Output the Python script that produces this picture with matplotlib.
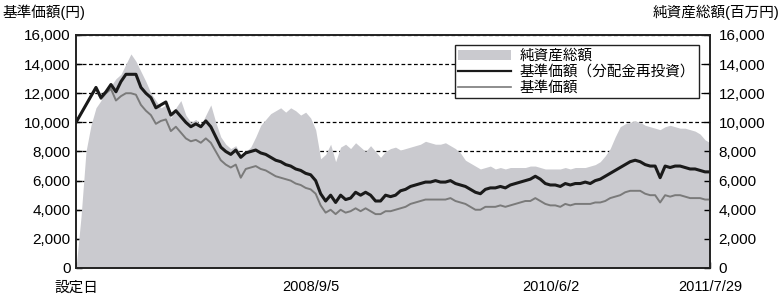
import numpy as np
import pandas as pd
import matplotlib
matplotlib.use('Agg')
import matplotlib.pyplot as plt
from matplotlib.patches import Patch
from matplotlib.lines import Line2D

plt.rcParams['font.family'] = ['Liberation Sans', 'Noto Sans CJK JP', 'DejaVu Sans']

# 設定日 ~ 2011/7/29, 概ね2週間ごとの値(読み取り)
start_date = '2006-12-22'
end_date = '2011-07-29'

nav_reinvest = [
    10000, 10600, 11200, 11800, 12400, 11700, 12100, 12600, 12100, 12800,
    13300, 13300, 13300, 12400, 12000, 11700, 11000, 11200, 11400, 10500,
    10800, 10400, 10000, 9700, 9900, 9700, 10100, 9700, 9000, 8300,
    8000, 7800, 8100, 7600, 7900, 8000, 8100, 7900, 7800, 7600,
    7400, 7300, 7100, 7000, 6800, 6700, 6500, 6400, 6000, 5100,
    4600, 5000, 4500, 5000, 4700, 4800, 5200, 5000, 5200, 5000,
    4600, 4600, 5000, 4900, 5000, 5300, 5400, 5600, 5700, 5800,
    5900, 5900, 6000, 5900, 5900, 6000, 5800, 5700, 5600, 5400,
    5200, 5100, 5400, 5500, 5500, 5600, 5500, 5700, 5800, 5900,
    6000, 6100, 6300, 6100, 5800, 5700, 5700, 5600, 5800, 5700,
    5800, 5800, 5900, 5800, 6000, 6100, 6300, 6500, 6700, 6900,
    7100, 7300, 7400, 7300, 7100, 7000, 7000, 6200, 7000, 6900,
    7000, 7000, 6900, 6800, 6800, 6700, 6600, 6600,
]

nav = [
    10000, 10600, 11200, 11800, 12300, 11600, 12000, 12300, 11500, 11800,
    12000, 12000, 11900, 11200, 10800, 10500, 9900, 10100, 10200, 9400,
    9700, 9300, 8900, 8700, 8800, 8600, 8900, 8600, 8000, 7400,
    7100, 6900, 7100, 6200, 6800, 6900, 7000, 6800, 6700, 6500,
    6300, 6200, 6100, 6000, 5800, 5700, 5500, 5400, 5100, 4300,
    3800, 4000, 3700, 4000, 3800, 3900, 4100, 3900, 4100, 3900,
    3700, 3700, 3900, 3900, 4000, 4100, 4200, 4400, 4500, 4600,
    4700, 4700, 4700, 4700, 4700, 4800, 4600, 4500, 4400, 4200,
    4000, 4000, 4200, 4200, 4200, 4300, 4200, 4300, 4400, 4500,
    4600, 4600, 4800, 4600, 4400, 4300, 4300, 4200, 4400, 4300,
    4400, 4400, 4400, 4400, 4500, 4500, 4600, 4800, 4900, 5000,
    5200, 5300, 5300, 5300, 5100, 5000, 5000, 4500, 5000, 4900,
    5000, 5000, 4900, 4800, 4800, 4800, 4700, 4700,
]

net_assets = [
    0, 3500, 8000, 9800, 11000, 11500, 12200, 12500, 13000, 13300,
    14000, 14700, 14200, 13500, 12800, 12000, 11500, 11000, 11200, 10300,
    11000, 11500, 10500, 10000, 10200, 9800, 10500, 11200, 10000, 9000,
    8500, 8200, 8400, 7800, 8000, 8300, 9000, 9800, 10200, 10600,
    10800, 11000, 10700, 11000, 10800, 10500, 10700, 10300, 9500, 7500,
    7800, 8500, 7300, 8300, 8500, 8200, 8600, 8300, 8000, 8400,
    8000, 7600, 8000, 8200, 8300, 8100, 8200, 8300, 8400, 8500,
    8700, 8600, 8500, 8500, 8600, 8400, 8200, 7900, 7400, 7200,
    7000, 6800, 6900, 7000, 6800, 6900, 6800, 6900, 6900, 6900,
    6900, 7000, 7000, 6900, 6800, 6800, 6800, 6800, 6900, 6800,
    6900, 6900, 6900, 7000, 7100, 7300, 7700, 8200, 9000, 9700,
    9900, 10000, 10100, 10000, 9800, 9700, 9600, 9500, 9700, 9800,
    9700, 9600, 9600, 9500, 9400, 9200, 8800, 8600,
]

tick_dates = ['2006-12-22', '2008-09-05', '2010-06-02', '2011-07-29']
tick_labels = ['設定日', '2008/9/5', '2010/6/2', '2011/7/29']
y_ticks = np.arange(0, 16001, 2000)

dates = pd.date_range(start_date, end_date, periods=len(nav))

fig = plt.figure(figsize=(7.82, 2.96), dpi=100)
ax2 = fig.add_axes([0.0972, 0.0946, 0.8108, 0.7872])
ax = ax2.twinx()
ax.set_zorder(ax2.get_zorder() + 1)
ax.patch.set_visible(False)

# 純資産総額(右軸)
ax2.fill_between(dates, 0, net_assets, color='#cacacf', linewidth=0, zorder=2)
ax2.set_axisbelow(True)
ax2.grid(axis='y', color='black', linestyle=(0, (3, 2)), linewidth=0.9)
ax2.set_ylim(0, 16000)
ax2.set_yticks(y_ticks)

# 基準価額(左軸)
ax.plot(dates, nav, color='#7a7a7a', linewidth=1.4)
ax.plot(dates, nav_reinvest, color='#1a1a1a', linewidth=2.2)
ax.set_ylim(0, 16000)
ax.set_yticks(y_ticks)

ax2.set_xlim(pd.Timestamp(start_date), pd.Timestamp(end_date))
ax2.set_xticks(pd.to_datetime(tick_dates))
ax2.set_xticklabels(tick_labels, fontsize=10.5)

# 左ラベルは ax2、右ラベルは ax
ax2.yaxis.tick_left()
ax.yaxis.tick_right()
ax2.set_yticklabels([f'{v:,}' for v in y_ticks], fontsize=11)
ax.set_yticklabels([f'{v:,}' for v in y_ticks], fontsize=11)
ax2.tick_params(axis='y', direction='in', length=4, width=1, pad=4)
ax2.tick_params(axis='x', direction='in', length=4, width=1, pad=9)
ax.tick_params(axis='y', direction='in', length=4, width=1, pad=6)

for a in (ax, ax2):
    for s in a.spines.values():
        s.set_linewidth(1.2)
        s.set_color('#222222')

fig.text(0.003, 0.985, '基準価額(円)', fontsize=10.5, ha='left', va='top')
fig.text(0.997, 0.985, '純資産総額(百万円)', fontsize=10.5, ha='right', va='top')

handles = [
    Patch(facecolor='#cacacf', edgecolor='none'),
    Line2D([], [], color='#1a1a1a', linewidth=1.6),
    Line2D([], [], color='#7a7a7a', linewidth=1.2),
]
labels = ['純資産総額', '基準価額（分配金再投資）', '基準価額']
leg = ax.legend(handles, labels, loc='upper right', bbox_to_anchor=(0.982, 0.955),
                fontsize=10.5, frameon=True, fancybox=False, framealpha=1,
                edgecolor='#222222', borderpad=0.25, labelspacing=0.12,
                handlelength=3.6, handletextpad=0.6, borderaxespad=0)
leg.get_frame().set_linewidth(1.0)

plt.savefig('out.png', dpi=100)
